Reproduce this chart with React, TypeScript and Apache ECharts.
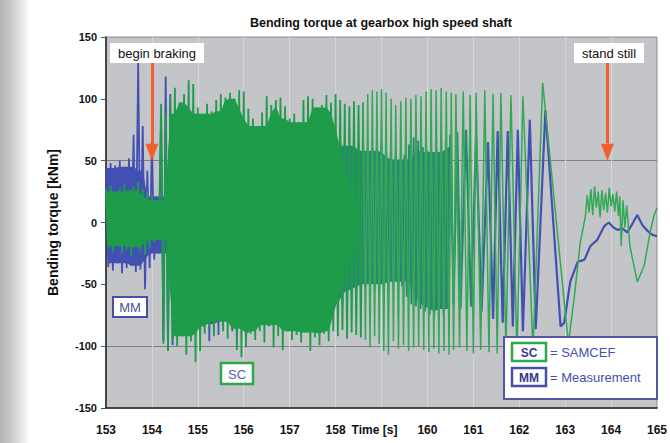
import React, { useEffect, useRef } from "react";
import * as echarts from "echarts";

// ---- axis ranges ----
const xMin = 153;
const xMax = 165;
const yMin = -150;
const yMax = 150;

// ---- sampled (dense) part of both signals: one peak value per 0.05 s ----
const sampleStart = 153.0;
const sampleStep = 0.05;

// SAMCEF (green), 153.00 .. 158.60 s, alternating peak / trough
const scDense = [
  27, -21, 30, -24, 25, -19, 28, -25, 31, -22,
  26, -27, 29, -20, 33, -23, 27, -26, 25, -21,
  22, -16, 18, -14, 96, -98, 88, -104, 101, -95,
  109, -100, 97, -92, 104, -107, 115, -96, 112, -113,
  93, -104, 88, -90, 96, -84, 90, -92, 99, -80,
  104, -88, 101, -94, 105, -86, 100, -103, 107, -109,
  106, -101, 92, -90, 84, -95, 78, -88, 89, -97,
  102, -83, 95, -101, 99, -92, 101, -103, 94, -88,
  84, -95, 88, -91, 81, -97, 99, -89, 102, -104,
  100, -93, 93, -99, 95, -90, 103, -96, 97, -88,
  104, -92, 99, -87, 96, -94, 94, -89, 98, -91,
  95, -93, 97,
];

// Measurement (blue), 153.00 .. 160.50 s, alternating peak / trough
const mmDense = [
  44, -36, 48, -39, 46, -33, 50, -41, 45, -37,
  52, -35, 71, -40, 129, -38, 78, -54, 42, -37,
  67, -30, 21, -25, 84, -96, 118, -104, 104, -99,
  90, -88, 82, -85, 78, -80, 85, -90, 80, -84,
  76, -88, 79, -82, 74, -96, 80, -86, 77, -91,
  82, -84, 78, -80, 75, -88, 80, -92, 83, -85,
  79, -83, 72, -80, 70, -78, 74, -82, 76, -79,
  73, -84, 78, -80, 75, -77, 71, -81, 74, -76,
  72, -78, 70, -75, 73, -79, 71, -74, 68, -77,
  70, -72, 67, -75, 69, -70, 66, -73, 68, -69,
  65, -71, 67, -66, 64, -68, 62, -58, 65, -55,
  63, -54, 66, -52, 58, -50, 60, -55, 65, -57,
  64, -58, 62, -56, 57, -50, 53, -48, 51, -52,
  55, -60, 63, -66, 69, -68, 66, -70, 61, -72,
  58, -75, 57, -77, 59, -78, 62, -74, 66, -70,
  71,
];

// ---- individually resolved part (times and values) ----
const scTailT = [
  158.6, 158.65, 158.7, 158.75, 158.8, 158.85, 158.9, 158.95, 159.0, 159.05, 159.1, 159.15,
  159.21, 159.26, 159.31, 159.37, 159.42, 159.48, 159.53, 159.59, 159.64, 159.7, 159.75, 159.81, 159.86, 159.92, 159.97,
  160.03, 160.08, 160.14, 160.19, 160.25, 160.3, 160.36, 160.41, 160.47, 160.52, 160.57, 160.62,
  160.7, 160.78, 160.86, 160.93, 161.0, 161.06, 161.16, 161.25, 161.34, 161.43, 161.52, 161.6, 161.71, 161.82, 161.95, 162.08, 162.3, 162.51,
  163.07, 163.2, 163.33, 163.44,
  163.48, 163.52, 163.56, 163.6, 163.64, 163.68, 163.72, 163.76, 163.8, 163.84, 163.88, 163.92, 163.96, 164.0, 164.04, 164.08, 164.12, 164.16,
  164.19, 164.22, 164.26, 164.3, 164.34,
  164.41, 164.57, 164.72, 164.85, 164.93, 165.0,
];
const scTailV = [
  97, -95, 104, -101, 107, -92, 106, -98, 108, -104, 105, -107,
  100, -96, 95, -102, 98, -99, 101, -104, 100, -101, 103, -100, 102, -103, 106,
  -105, 108, -102, 107, -106, 109, -104, 106, -107, 105, -103, 104,
  -101, 106, -104, 103, -106, 105, -103, 107, -105, 104, -106, 105, -104, 103, -107, 102, -103, 113,
  -98, -60, -16, 5,
  22, 8, 27, 6, 29, 12, 25, 4, 26, 10, 24, 8, 28, 13, 23, 9, 25, 5,
  21, -19, 18, -4, 14,
  -19, -48, -35, -8, 5, 12,
];

const mmTailT = [
  160.5, 160.57, 160.65, 160.72, 160.84, 160.95,
  161.06, 161.18, 161.32, 161.43, 161.53, 161.64, 161.75, 161.86, 161.97,
  162.08, 162.23, 162.36, 162.57, 162.9, 162.98,
  163.11, 163.27, 163.42, 163.55, 163.7, 163.85, 163.95,
  164.05, 164.15, 164.25, 164.35, 164.45, 164.57, 164.68, 164.8, 164.9,
  165.0,
];
const mmTailV = [
  71, -66, 73, -70, 75, -68,
  70, -72, 65, -78, 74, -81, 74, -84, 75,
  -88, 83, -86, 91, -84, -81,
  -48, -32, -30, -19, -14, -3, 0,
  -4, -6, -5, -8, -2, 6, -2, -7, -10,
  -11,
];

// annotation arrows: time, start value, arrow-tip value
const arrowTimes = [154.0, 163.92];
const arrowStart = 130;
const arrowTip = 50;

const GREEN = "#1d9c4a";
const GREEN_LINE = "#33a955";
const BLUE = "#4250b3";
const TEAL = "#2b8576";
const RED = "#f0602e";
const FONT = "'Liberation Sans', Arial, sans-serif";

// plot layout (pixels)
const GRID_LEFT = 106;
const GRID_RIGHT = 10;
const GRID_TOP = 37;
const GRID_BOTTOM = 35;
const W = 670;

function sampled(values: number[]) {
  return values.map((v, i) => [+(sampleStart + i * sampleStep).toFixed(2), v]);
}
function paired(t: number[], v: number[]) {
  return t.map((x, i) => [x, v[i]]);
}
const frac = (t: number) => (t - xMin) / (xMax - xMin);

// measurement colour: blue where it is seen alone, teal where it shows through the green lines
function blueShade() {
  return new echarts.graphic.LinearGradient(
    GRID_LEFT, 0, W - GRID_RIGHT, 0,
    [
      { offset: 0, color: BLUE },
      { offset: frac(154.8), color: BLUE },
      { offset: frac(158.3), color: TEAL },
      { offset: frac(160.9), color: TEAL },
      { offset: frac(161.4), color: BLUE },
      { offset: 1, color: BLUE },
    ],
    true
  );
}

// solid core of a dense oscillation: band between the locally smallest peaks and troughs,
// fading out over the last `fade` samples
function coreBand(values: number[], fill: () => any, lastIndex: number, fade: number) {
  return {
    type: "custom",
    silent: true,
    clip: true,
    data: [[sampleStart, 0]],
    renderItem: (_params: any, api: any) => {
      const upper: number[][] = [];
      const lower: number[][] = [];
      const n = Math.min(values.length - 1, lastIndex);
      for (let i = 0; i <= n; i++) {
        const t = sampleStart + i * sampleStep;
        const win: number[] = [];
        for (let k = i - 4; k <= i + 4; k += 2) {
          if (k >= 0 && k <= n) win.push(values[k]);
        }
        const scale = fade > 0 ? Math.min(1, (n - i + 1) / fade) : 1;
        if (i % 2 === 0) upper.push(api.coord([t, Math.min(...win) * scale]));
        else lower.push(api.coord([t, Math.max(...win) * scale]));
      }
      return {
        type: "polygon",
        shape: { points: upper.concat(lower.reverse()) },
        style: { fill: fill() },
      };
    },
  };
}

export default function App() {
  const ref = useRef<HTMLDivElement>(null);
  useEffect(() => {
    if (!ref.current) return;
    const chart = echarts.init(ref.current, undefined, { renderer: "svg" });
    const none = "rgba(0,0,0,0)";
    const option: any = {
      animation: false,
      backgroundColor: "#ffffff",
      title: {
        text: "Bending torque at gearbox high speed shaft",
        left: 245,
        top: 11,
        textStyle: { fontFamily: FONT, fontSize: 12.5, fontWeight: "bold", color: "#111" },
      },
      grid: {
        left: GRID_LEFT,
        right: GRID_RIGHT,
        top: GRID_TOP,
        bottom: GRID_BOTTOM,
        show: true,
        backgroundColor: "#c3c5c8",
        borderColor: "#8a8c8f",
        borderWidth: 1,
      },
      xAxis: {
        type: "value",
        min: xMin,
        max: xMax,
        interval: 1,
        axisLine: { show: true, onZero: false, lineStyle: { color: "#222", width: 1.5 } },
        axisTick: { show: false },
        splitLine: {
          show: true,
          showMinLine: false,
          showMaxLine: false,
          lineStyle: { color: "#d4d6d9", width: 1 },
        },
        axisLabel: {
          margin: 16,
          fontFamily: FONT,
          fontSize: 12,
          fontWeight: "bold",
          color: "#111",
          formatter: (v: number) => (v === 159 ? "{t|Time [s]}" : String(v)),
          rich: {
            t: { fontFamily: FONT, fontSize: 12, fontWeight: "bold", color: "#111", padding: [0, 14, 0, 0] },
          },
        },
      },
      yAxis: {
        type: "value",
        min: yMin,
        max: yMax,
        interval: 50,
        name: "Bending torque [kNm]",
        nameLocation: "middle",
        nameGap: 46,
        nameRotate: 90,
        nameTextStyle: { fontFamily: FONT, fontSize: 14, fontWeight: "bold", color: "#111" },
        axisLine: { show: true, lineStyle: { color: "#222", width: 1.5 } },
        axisTick: { show: true, length: 5, lineStyle: { color: "#555" } },
        splitLine: {
          show: true,
          lineStyle: { color: [none, "#7d7f82", none, none, "#7d7f82", none, none], width: 1 },
        },
        axisLabel: { margin: 9, fontFamily: FONT, fontSize: 11, fontWeight: "bold", color: "#111" },
      },
      series: [
        { ...coreBand(mmDense, blueShade, mmDense.length - 1, 0), name: "Measurement core", z: 2 },
        {
          type: "line",
          name: "Measurement",
          data: sampled(mmDense),
          symbol: "none",
          showSymbol: false,
          silent: true,
          lineStyle: { color: blueShade(), width: 1.8 },
          z: 2,
        },
        {
          type: "line",
          name: "Measurement tail",
          data: paired(mmTailT, mmTailV),
          symbol: "none",
          showSymbol: false,
          silent: true,
          lineStyle: { color: blueShade(), width: 2.2 },
          z: 2,
        },
        { ...coreBand(scDense, () => GREEN, 110, 14), name: "SAMCEF core", z: 3 },
        {
          type: "line",
          name: "SAMCEF",
          data: sampled(scDense),
          symbol: "none",
          showSymbol: false,
          silent: true,
          lineStyle: { color: GREEN, width: 1.8 },
          z: 3,
        },
        {
          type: "line",
          name: "SAMCEF tail",
          data: paired(scTailT, scTailV),
          symbol: "none",
          showSymbol: false,
          silent: true,
          lineStyle: { color: GREEN_LINE, width: 1.5 },
          z: 3,
          markLine: {
            silent: true,
            symbol: ["none", "none"],
            label: { show: false },
            lineStyle: { color: RED, width: 3, type: "solid" },
            data: arrowTimes.map((t) => [{ coord: [t, arrowStart] }, { coord: [t, arrowTip + 14] }]),
            z: 5,
          },
          markPoint: {
            silent: true,
            symbol: "triangle",
            symbolRotate: 180,
            symbolSize: [13, 17],
            symbolOffset: [0, -8.5],
            itemStyle: { color: RED },
            label: { show: false },
            data: arrowTimes.map((t) => ({ coord: [t, arrowTip] })),
            z: 5,
          },
        },
      ],
      graphic: [
        {
          type: "rect",
          z: -10,
          shape: { x: 0, y: 0, width: 30, height: 443 },
          style: {
            fill: new echarts.graphic.LinearGradient(0, 0, 1, 0, [
              { offset: 0, color: "#b2b2b2" },
              { offset: 0.45, color: "#cfcfcf" },
              { offset: 1, color: "#ffffff" },
            ]),
          },
        },
        // begin braking
        { type: "rect", z: 50, shape: { x: 110, y: 43, width: 94, height: 20 }, style: { fill: "#ffffff" } },
        {
          type: "text", z: 51, x: 157, y: 53,
          style: { text: "begin braking", font: `13px ${FONT}`, fill: "#111", align: "center", verticalAlign: "middle" },
        },
        // stand still
        { type: "rect", z: 50, shape: { x: 574, y: 43, width: 70, height: 20 }, style: { fill: "#ffffff" } },
        {
          type: "text", z: 51, x: 609, y: 53,
          style: { text: "stand still", font: `13px ${FONT}`, fill: "#111", align: "center", verticalAlign: "middle" },
        },
        // MM label
        {
          type: "rect", z: 50, shape: { x: 113, y: 297, width: 34, height: 20 },
          style: { fill: "#ffffff", stroke: "#4650a8", lineWidth: 2 },
        },
        {
          type: "text", z: 51, x: 130, y: 307.5,
          style: { text: "MM", font: `13px ${FONT}`, fill: "#4650a8", align: "center", verticalAlign: "middle" },
        },
        // SC label
        {
          type: "rect", z: 50, shape: { x: 221, y: 363, width: 32, height: 21 },
          style: { fill: "#ffffff", stroke: "#2ea84a", lineWidth: 2.5 },
        },
        {
          type: "text", z: 51, x: 237, y: 374,
          style: { text: "SC", font: `13px ${FONT}`, fill: "#5660a8", align: "center", verticalAlign: "middle" },
        },
        // legend box
        {
          type: "rect", z: 50, shape: { x: 504, y: 337, width: 153, height: 62 },
          style: { fill: "#ffffff", stroke: "#5256a8", lineWidth: 2 },
        },
        {
          type: "rect", z: 51, shape: { x: 512, y: 343, width: 34, height: 18 },
          style: { fill: "#ffffff", stroke: "#2ea84a", lineWidth: 2.5 },
        },
        {
          type: "text", z: 52, x: 529, y: 352.5,
          style: { text: "SC", font: `bold 12px ${FONT}`, fill: "#353a8c", align: "center", verticalAlign: "middle" },
        },
        {
          type: "text", z: 52, x: 550, y: 352.5,
          style: { text: "= SAMCEF", font: `13px ${FONT}`, fill: "#4650a8", align: "left", verticalAlign: "middle" },
        },
        {
          type: "rect", z: 51, shape: { x: 512, y: 368, width: 34, height: 18 },
          style: { fill: "#ffffff", stroke: "#4650a8", lineWidth: 2.5 },
        },
        {
          type: "text", z: 52, x: 529, y: 377.5,
          style: { text: "MM", font: `bold 12px ${FONT}`, fill: "#353a8c", align: "center", verticalAlign: "middle" },
        },
        {
          type: "text", z: 52, x: 550, y: 377.5,
          style: { text: "= Measurement", font: `13px ${FONT}`, fill: "#4650a8", align: "left", verticalAlign: "middle" },
        },
      ],
    };
    chart.setOption(option);
    return () => chart.dispose();
  }, []);
  return (
    <div
      ref={ref}
      style={{ position: "fixed", left: 0, top: 0, width: 670, height: 443, background: "#fff" }}
    />
  );
}
